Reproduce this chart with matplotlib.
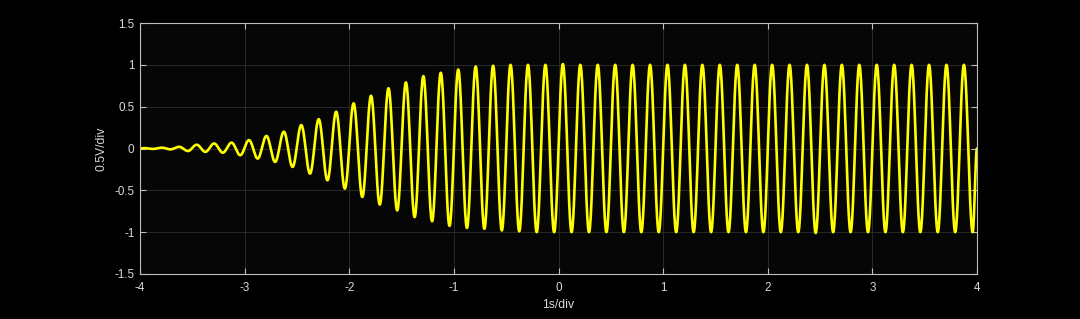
import numpy as np
import matplotlib
matplotlib.use("Agg")
import matplotlib.pyplot as plt

# carrier: 6 cycles per second, sweep from -4 s to 4 s
freq = 6.0
t_start, t_end = -4.0, 4.0

# height of every half-cycle extreme (peak, trough, peak, ...)
extremes = [
    0.005, -0.005, 0.01, -0.01, 0.02, -0.03, 0.045, -0.04,
    0.06, -0.05, 0.07, -0.08, 0.10, -0.12, 0.15, -0.16,
    0.20, -0.22, 0.28, -0.30, 0.35, -0.38, 0.44, -0.48,
    0.54, -0.58, 0.63, -0.67, 0.72, -0.74, 0.79, -0.82,
    0.865, -0.87, 0.905, -0.925, 0.944, -0.95, 0.98, -0.96,
    0.99, -0.98, 1.00, -0.99, 1.00, -1.00, 1.00, -1.00,
    1.01, -1.00, 1.00, -1.00, 1.00, -1.00, 1.00, -1.00,
    1.00, -1.00, 1.00, -1.00, 1.00, -1.00, 1.00, -1.00,
    1.00, -1.00, 1.00, -1.00, 1.00, -1.00, 1.00, -1.00,
    1.00, -1.00, 1.00, -1.00, 1.00, -1.01, 1.00, -1.00,
    1.00, -1.00, 1.00, -1.00, 1.00, -1.00, 1.00, -1.00,
    1.00, -1.00, 1.00, -1.00, 1.00, -1.00, 1.00, -1.00,
]

xticks = [-4, -3, -2, -1, 0, 1, 2, 3, 4]
yticks = [-1.5, -1, -0.5, 0, 0.5, 1, 1.5]
yticklabels = ["-1.5", "-1", "-0.5", "0", "0.5", "1", "1.5"]

# node times: start, each extreme, end
half = 0.5 / freq
node_t = [t_start] + [t_start + half / 2 + k * half for k in range(len(extremes))] + [t_end]
node_v = [0.0] + extremes + [0.0]

# half-cosine between consecutive extremes gives the smooth waveform
ts, ys = [], []
for i in range(len(node_t) - 1):
    s = np.linspace(0, 1, 25, endpoint=False)
    a, b = node_v[i], node_v[i + 1]
    ts.append(node_t[i] + s * (node_t[i + 1] - node_t[i]))
    ys.append((a + b) / 2 + (a - b) / 2 * np.cos(np.pi * s))
ts.append([node_t[-1]])
ys.append([node_v[-1]])
t = np.concatenate(ts)
y = np.concatenate(ys)

plt.rcParams['font.family'] = ['Liberation Sans', 'DejaVu Sans']

fig = plt.figure(figsize=(10.8, 3.19), dpi=100, facecolor='black')
ax = fig.add_axes([140 / 1080, 45 / 319, 837 / 1080, 251 / 319])
ax.set_facecolor('#060606')

ax.plot(t, y, color='#ffff00', lw=1.9, solid_capstyle='round')

ax.set_xlim(t_start, t_end)
ax.set_ylim(-1.5, 1.5)
ax.set_xticks(xticks)
ax.set_xticklabels([str(v) for v in xticks])
ax.set_yticks(yticks)
ax.set_yticklabels(yticklabels)

ax.grid(True, color='#2e2e2e', lw=0.6)
ax.set_axisbelow(True)
for sp in ax.spines.values():
    sp.set_color('#bdbdbd')
    sp.set_linewidth(0.8)
ax.tick_params(direction='in', length=4, width=0.8, colors='#bdbdbd',
               labelcolor='#d9d9d9', labelsize=8.4, top=True, right=True)
ax.tick_params(axis='x', pad=6)
ax.tick_params(axis='y', pad=4)

ax.set_xlabel('1s/div', color='#d9d9d9', fontsize=8.8, labelpad=3)
ax.set_ylabel('0.5V/div', color='#d9d9d9', fontsize=8.8, labelpad=5)

fig.savefig('out.png', dpi=100, facecolor='black')
